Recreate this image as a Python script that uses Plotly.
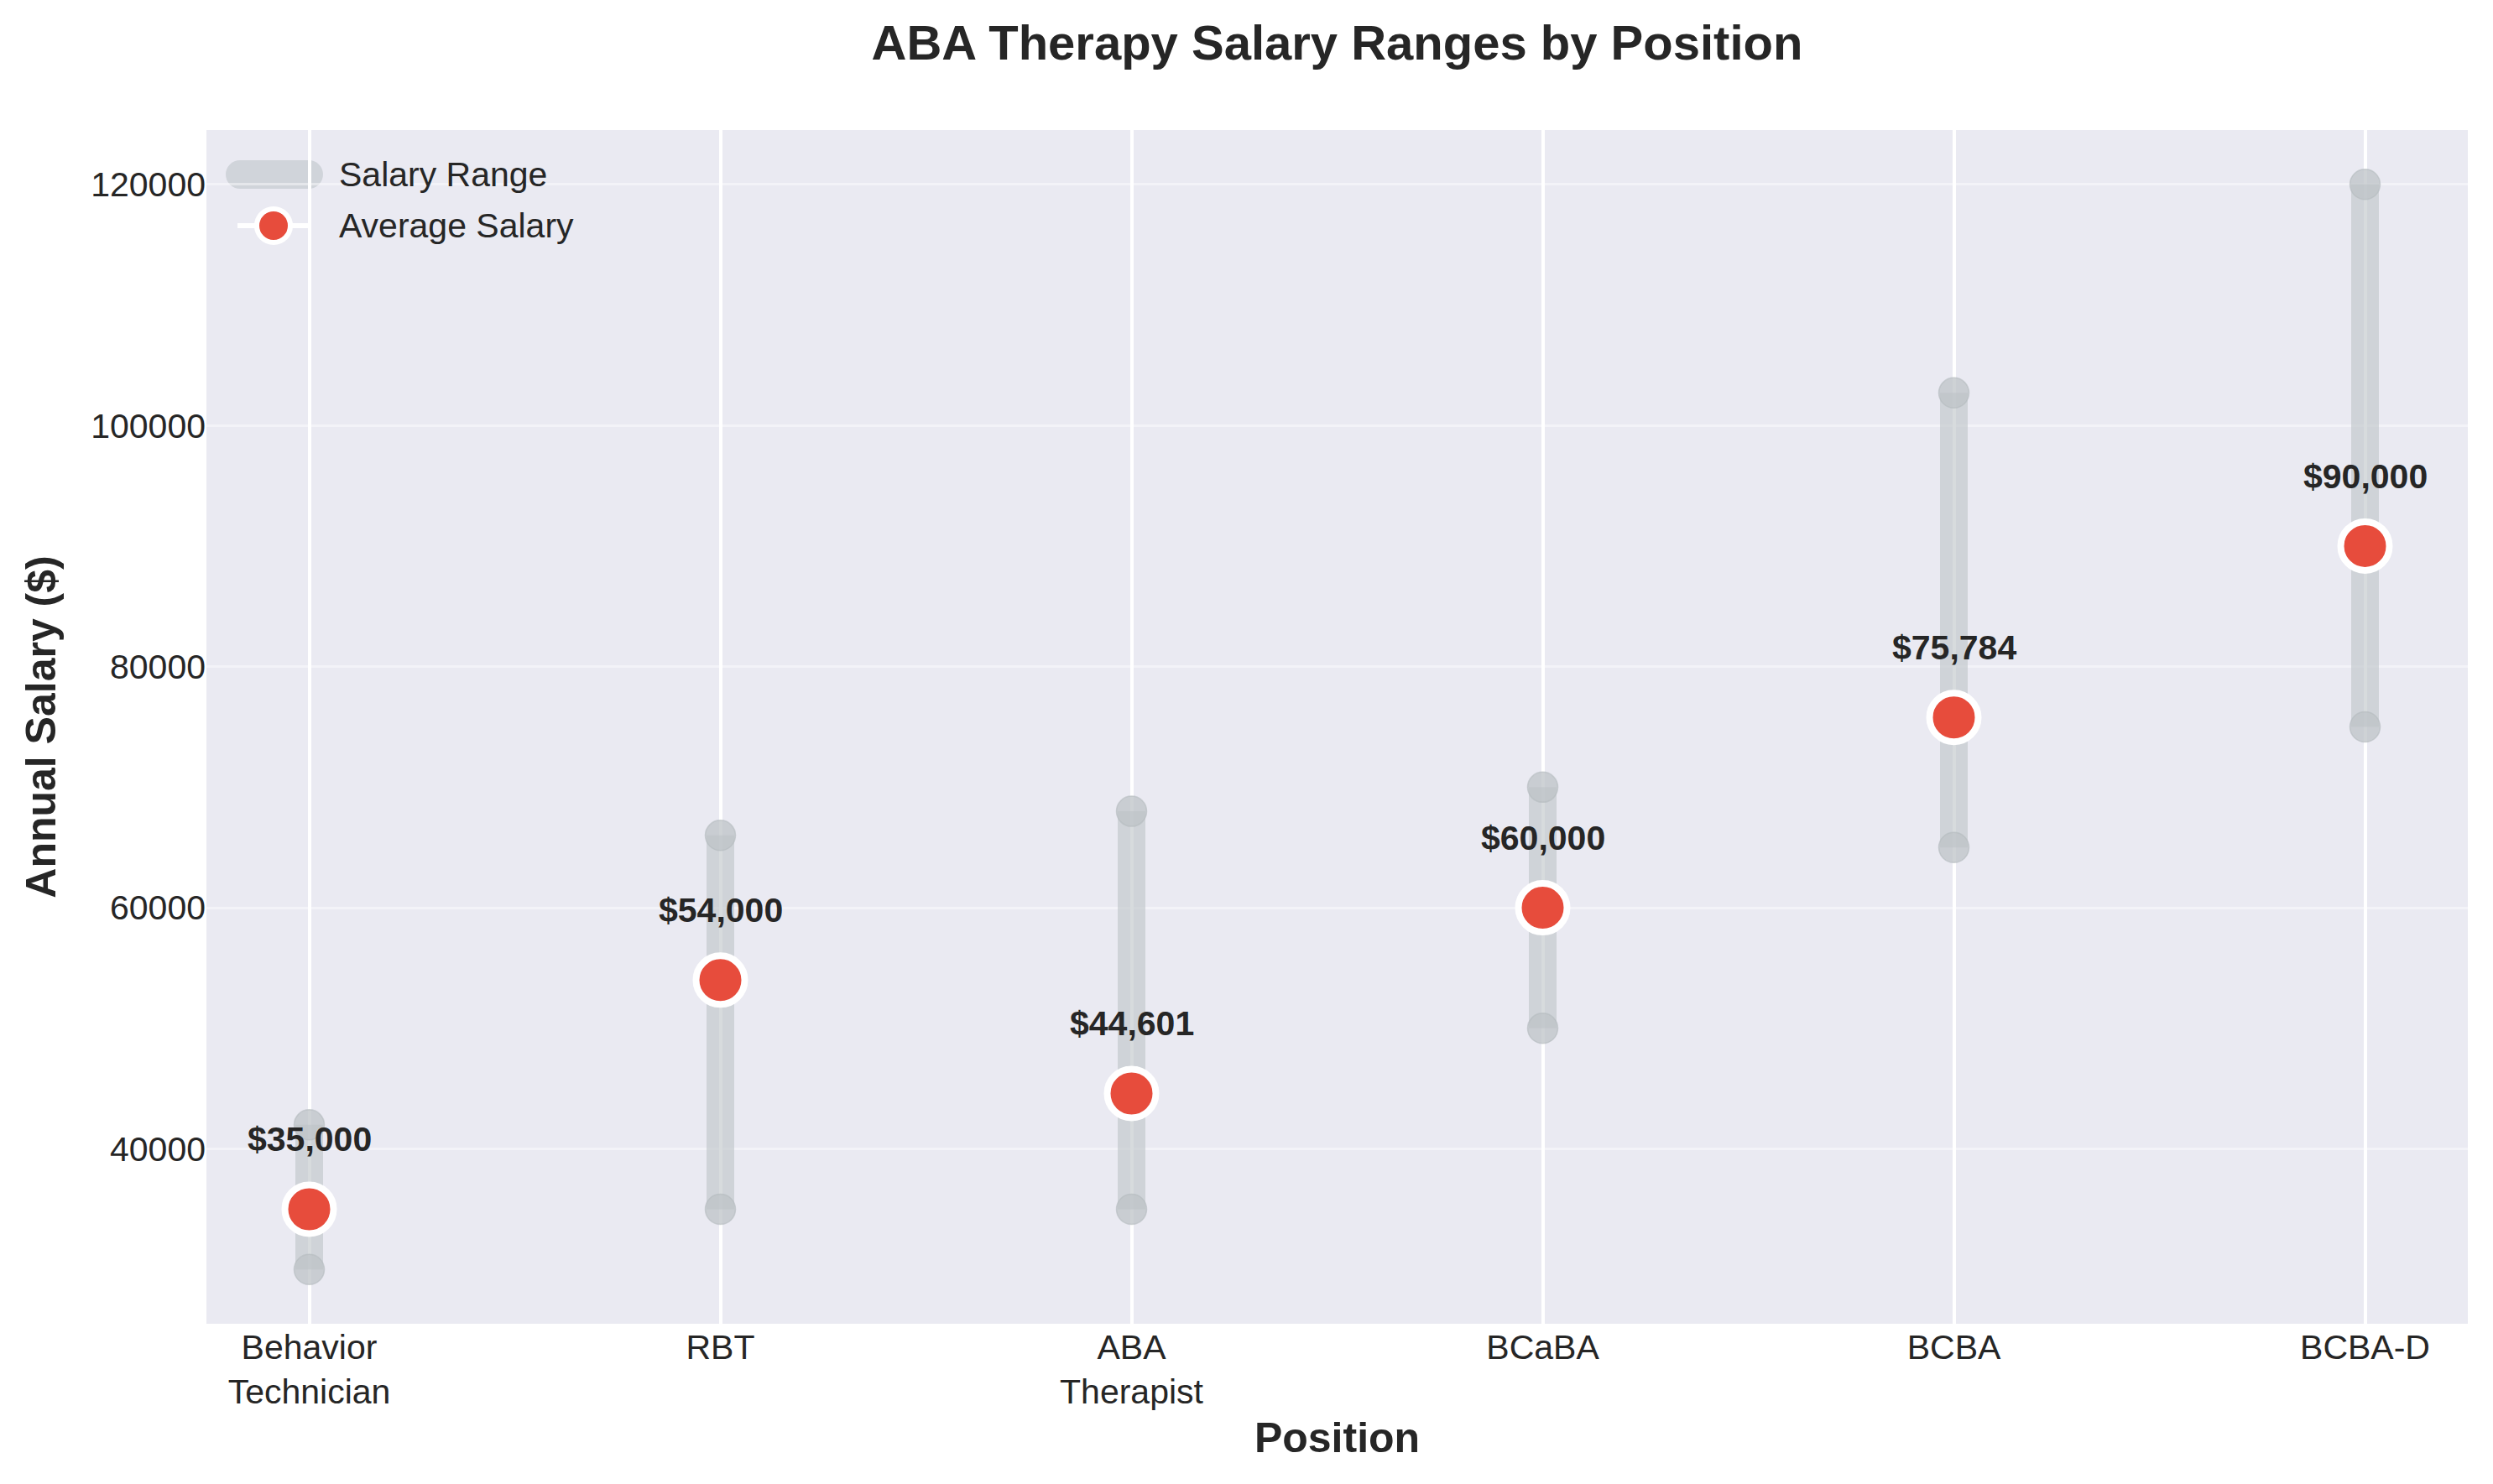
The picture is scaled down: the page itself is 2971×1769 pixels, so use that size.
import plotly.graph_objects as go

positions = ["Behavior<br>Technician", "RBT", "ABA<br>Therapist", "BCaBA", "BCBA", "BCBA-D"]
min_salary = [30000, 35000, 35000, 50000, 65000, 75000]
max_salary = [42000, 66000, 68000, 70000, 102700, 120000]
avg_salary = [35000, 54000, 44601, 60000, 75784, 90000]
y_ticks = [40000, 60000, 80000, 100000, 120000]
legend_labels = ["Salary Range", "Average Salary"]

xs = list(range(len(positions)))
TXT = "#262626"
FONT = "Liberation Sans, Arial, sans-serif"
RED = "#E74C3C"
RANGE_CLR = "rgba(189,195,199,0.6)"

# figure geometry (page body has an 8px margin)
W, H = 2955, 1753
ML, MT, MR = 238, 147, 22
PLOT_BOTTOM = 1570
MB = H - PLOT_BOTTOM
PW, PH = W - ML - MR, PLOT_BOTTOM - MT

fig = go.Figure()

# range lines
lx, ly = [], []
for i, (lo, hi) in enumerate(zip(min_salary, max_salary)):
    lx += [i, i, None]
    ly += [lo, hi, None]
fig.add_trace(go.Scatter(
    x=lx, y=ly, mode="lines", name=legend_labels[0],
    line=dict(color=RANGE_CLR, width=33),
    hoverinfo="skip", showlegend=False,
))
# end markers
fig.add_trace(go.Scatter(
    x=xs + xs, y=min_salary + max_salary, mode="markers",
    marker=dict(size=36, color="rgba(189,195,199,0.75)",
                line=dict(color="rgba(180,186,190,0.6)", width=1.5)),
    showlegend=False, hoverinfo="skip",
))
# averages
fig.add_trace(go.Scatter(
    x=xs, y=avg_salary, mode="markers", name=legend_labels[1],
    marker=dict(size=58, color=RED, line=dict(color="white", width=8)),
    showlegend=False,
))

for i, v in enumerate(avg_salary):
    fig.add_annotation(
        x=i, y=v, text=f"<b>${v:,.0f}</b>", showarrow=False,
        yshift=83, yanchor="middle", xanchor="center",
        font=dict(size=41, color=TXT, family=FONT),
    )

# ---- manual legend (pixel offsets from the plot's top-left corner) ----
def px_shape(**kw):
    base = dict(xref="paper", yref="paper", xsizemode="pixel", ysizemode="pixel",
                xanchor=0, yanchor=1)
    base.update(kw)
    fig.add_shape(**base)

leg_bar = "#D0D4DA"
# Salary Range: thick rounded bar
px_shape(type="line", x0=40, x1=122, y0=-53, y1=-53,
         line=dict(color=leg_bar, width=34), layer="below")
for cx in (40, 122):
    px_shape(type="circle", x0=cx - 17, x1=cx + 17, y0=-70, y1=-36,
             fillcolor=leg_bar, line=dict(width=0), layer="below")
# Average Salary: white line + red marker with white edge
px_shape(type="line", x0=37, x1=122, y0=-114, y1=-114,
         line=dict(color="white", width=6), layer="above")
px_shape(type="circle", x0=80 - 20, x1=80 + 20, y0=-134, y1=-94,
         fillcolor=RED, line=dict(color="white", width=6), layer="above")

for k, lab in enumerate(legend_labels):
    yc = [53, 114][k]
    fig.add_annotation(
        xref="paper", yref="paper", x=(394 - ML) / PW, y=1 - yc / PH,
        xanchor="left", yanchor="middle", text=lab, showarrow=False,
        font=dict(size=41, color=TXT, family=FONT),
    )

fig.update_layout(
    width=W, height=H,
    margin=dict(l=ML, r=MR, t=MT, b=MB),
    paper_bgcolor="white", plot_bgcolor="#EAEAF2",
    font=dict(family=FONT, color=TXT, size=41),
    title=dict(text="<b>ABA Therapy Salary Ranges by Position</b>",
               x=(ML + PW / 2) / W, xanchor="center", y=1 - 43 / H, yanchor="middle",
               yref="container", font=dict(size=58, color=TXT, family=FONT)),
    showlegend=False,
)
fig.update_xaxes(
    range=[-0.25, len(positions) - 0.75],
    tickmode="array", tickvals=xs, ticktext=positions,
    showgrid=True, gridcolor="white", gridwidth=3.5,
    zeroline=False, showline=False, ticks="",
    tickfont=dict(size=41, color=TXT, family=FONT),
    title=dict(text="<b>Position</b>", font=dict(size=50, color=TXT, family=FONT), standoff=14),
)
fig.update_yaxes(
    range=[25500, 124500],
    tickmode="array", tickvals=y_ticks, ticktext=[str(t) for t in y_ticks],
    showgrid=True, gridcolor="rgba(255,255,255,0.45)", gridwidth=3,
    zeroline=False, showline=False, ticks="",
    tickfont=dict(size=41, color=TXT, family=FONT),
    title=dict(text="<b>Annual Salary ($)</b>", font=dict(size=50, color=TXT, family=FONT), standoff=25),
)

fig.write_html("out.html")
